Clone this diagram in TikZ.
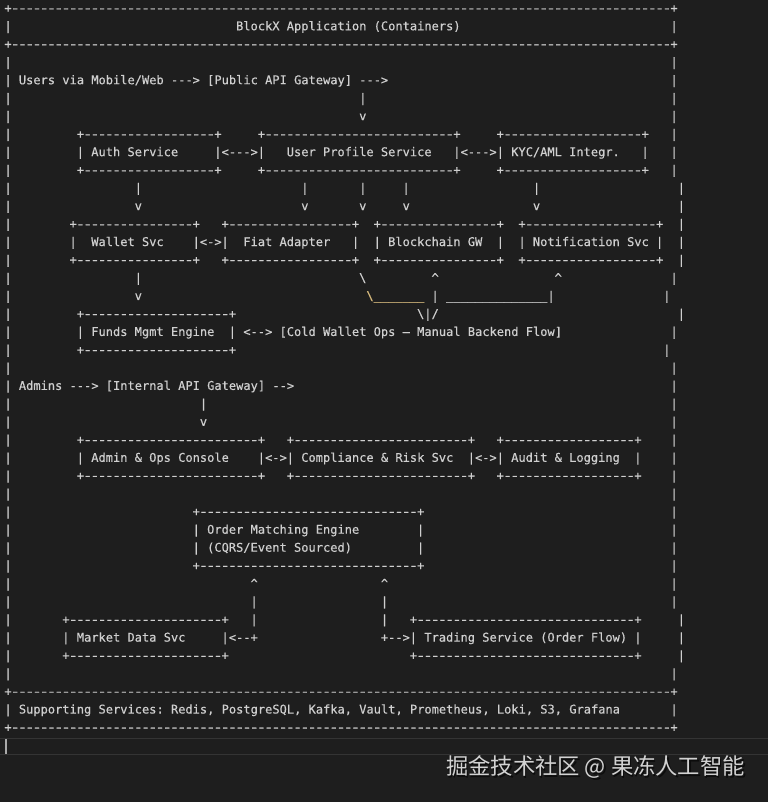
\documentclass[tikz,border=0pt]{standalone}
\usepackage{fontspec}
\setmonofont{DejaVu Sans Mono}[FakeBold=0.35]
\newfontfamily\cjkfont{Noto Sans CJK SC}
\definecolor{bg}{HTML}{1E1E1E}
\definecolor{fg}{HTML}{CFCFCF}
\definecolor{yel}{HTML}{D7BA7D}
\definecolor{wm}{HTML}{D2D2D2}
\definecolor{rulec}{HTML}{343434}
\definecolor{cur}{HTML}{AAAAAA}
\tikzset{asc/.style={anchor=base west,inner sep=0pt,outer sep=0pt,text=fg,font=\ttfamily\fontsize{12.03pt}{18pt}\selectfont}}
\newcommand\seg[4]{\node[asc] (#1) at ({4.4+7.24*(#2)},{12.3+17.98*(#3)}) {#4};}
\newcommand\dsh{\makebox[7.24pt]{\scalebox{1.35}[1]{-}}}
\newcommand\brd[4]{\pgfmathtruncatemacro\nd{#3-#2-1}\node[asc] (#1) at ({4.4+7.24*(#2)},{12.3+17.98*(#4)}) {+\foreach \k in {1,...,\nd}{\dsh}+};}
\newcommand\pp[3]{\seg{#1}{#2}{#3}{|}}
\begin{document}
\begin{tikzpicture}[x=1pt,y=-1pt]
\fill[bg] (0,0) rectangle (768,802);
\useasboundingbox (0,0) rectangle (768,802);
% header
\brd{r0}{0}{92}{0}
\pp{r1a}{0}{1}\seg{r1b}{32}{1}{BlockX Application (Containers)}\pp{r1c}{92}{1}
\brd{r2}{0}{92}{2}
\pp{r3a}{0}{3}\pp{r3b}{92}{3}
\pp{r4a}{0}{4}\seg{r4b}{2}{4}{Users via Mobile/Web ---> [Public API Gateway] --->}\pp{r4c}{92}{4}
\pp{r5a}{0}{5}\pp{r5b}{49}{5}\pp{r5c}{92}{5}
\pp{r6a}{0}{6}\seg{r6b}{49}{6}{v}\pp{r6c}{92}{6}
% auth row
\pp{r7a}{0}{7}\brd{r7b}{10}{29}{7}\brd{r7c}{35}{62}{7}\brd{r7d}{68}{88}{7}\pp{r7e}{92}{7}
\pp{r8a}{0}{8}\seg{r8b}{10}{8}{| Auth Service}\seg{r8c}{29}{8}{|<--->|}\seg{r8d}{39}{8}{User Profile Service}\seg{r8e}{62}{8}{|<--->| KYC/AML Integr.}\pp{r8f}{88}{8}\pp{r8g}{92}{8}
\pp{r9a}{0}{9}\brd{r9b}{10}{29}{9}\brd{r9c}{35}{62}{9}\brd{r9d}{68}{88}{9}\pp{r9e}{92}{9}
\pp{r10a}{0}{10}\pp{r10b}{18}{10}\pp{r10c}{41}{10}\pp{r10d}{49}{10}\pp{r10e}{55}{10}\pp{r10f}{73}{10}\pp{r10g}{93}{10}
\pp{r11a}{0}{11}\seg{r11b}{18}{11}{v}\seg{r11c}{41}{11}{v}\seg{r11d}{49}{11}{v}\seg{r11e}{55}{11}{v}\seg{r11f}{73}{11}{v}\pp{r11g}{93}{11}
% wallet row
\pp{r12a}{0}{12}\brd{r12b}{9}{26}{12}\brd{r12c}{30}{48}{12}\brd{r12d}{51}{68}{12}\brd{r12e}{71}{90}{12}\pp{r12f}{93}{12}
\pp{r13a}{0}{13}\pp{r13b}{9}{13}\seg{r13c}{12}{13}{Wallet Svc}\seg{r13d}{26}{13}{|<->|}\seg{r13e}{33}{13}{Fiat Adapter}\pp{r13f}{48}{13}\seg{r13g}{51}{13}{| Blockchain GW}\pp{r13h}{68}{13}\seg{r13i}{71}{13}{| Notification Svc |}\pp{r13j}{93}{13}
\pp{r14a}{0}{14}\brd{r14b}{9}{26}{14}\brd{r14c}{30}{48}{14}\brd{r14d}{51}{68}{14}\brd{r14e}{71}{90}{14}\pp{r14f}{93}{14}
\pp{r15a}{0}{15}\pp{r15b}{18}{15}\seg{r15c}{49}{15}{\textbackslash}\seg{r15d}{59}{15}{\textasciicircum}\seg{r15e}{76}{15}{\textasciicircum}\pp{r15f}{92}{15}
\pp{r16a}{0}{16}\seg{r16b}{18}{16}{v}
\node[asc,text=yel] (r16c) at ({4.4+7.24*50},{12.3+17.98*16}) {\textbackslash\_\_\_\_\_\_\_};
\seg{r16d}{59}{16}{| \_\_\_\_\_\_\_\_\_\_\_\_\_\_|}\pp{r16e}{91}{16}
% funds row
\pp{r17a}{0}{17}\brd{r17b}{10}{31}{17}\seg{r17c}{57}{17}{\textbackslash|/}\pp{r17d}{93}{17}
\pp{r18a}{0}{18}\seg{r18b}{10}{18}{| Funds Mgmt Engine}\seg{r18c}{31}{18}{| <--> [Cold Wallet Ops – Manual Backend Flow]}\pp{r18d}{92}{18}
\pp{r19a}{0}{19}\brd{r19b}{10}{31}{19}\pp{r19c}{91}{19}
\pp{r20a}{0}{20}\pp{r20b}{92}{20}
% admins
\pp{r21a}{0}{21}\seg{r21b}{2}{21}{Admins ---> [Internal API Gateway] -->}\pp{r21c}{92}{21}
\pp{r22a}{0}{22}\pp{r22b}{27}{22}\pp{r22c}{92}{22}
\pp{r23a}{0}{23}\seg{r23b}{27}{23}{v}\pp{r23c}{92}{23}
\pp{r24a}{0}{24}\brd{r24b}{10}{35}{24}\brd{r24c}{39}{64}{24}\brd{r24d}{68}{87}{24}\pp{r24e}{92}{24}
\pp{r25a}{0}{25}\seg{r25b}{10}{25}{| Admin \& Ops Console}\seg{r25c}{35}{25}{|<->| Compliance \& Risk Svc}\seg{r25d}{64}{25}{|<->| Audit \& Logging}\pp{r25e}{87}{25}\pp{r25f}{92}{25}
\pp{r26a}{0}{26}\brd{r26b}{10}{35}{26}\brd{r26c}{39}{64}{26}\brd{r26d}{68}{87}{26}\pp{r26e}{92}{26}
\pp{r27a}{0}{27}\pp{r27b}{92}{27}
% order matching
\pp{r28a}{0}{28}\brd{r28b}{26}{57}{28}\pp{r28c}{92}{28}
\pp{r29a}{0}{29}\seg{r29b}{26}{29}{| Order Matching Engine}\pp{r29c}{57}{29}\pp{r29d}{92}{29}
\pp{r30a}{0}{30}\seg{r30b}{26}{30}{| (CQRS/Event Sourced)}\pp{r30c}{57}{30}\pp{r30d}{92}{30}
\pp{r31a}{0}{31}\brd{r31b}{26}{57}{31}\pp{r31c}{92}{31}
\pp{r32a}{0}{32}\seg{r32b}{34}{32}{\textasciicircum}\seg{r32c}{52}{32}{\textasciicircum}\pp{r32d}{92}{32}
\pp{r33a}{0}{33}\pp{r33b}{34}{33}\pp{r33c}{52}{33}\pp{r33d}{92}{33}
\pp{r34a}{0}{34}\brd{r34b}{8}{30}{34}\pp{r34c}{34}{34}\pp{r34d}{52}{34}\brd{r34e}{56}{87}{34}\pp{r34f}{93}{34}
\pp{r35a}{0}{35}\seg{r35b}{8}{35}{| Market Data Svc}\seg{r35c}{30}{35}{|<--+}\seg{r35d}{52}{35}{+-->| Trading Service (Order Flow) |}\pp{r35e}{93}{35}
\pp{r36a}{0}{36}\brd{r36b}{8}{30}{36}\brd{r36c}{56}{87}{36}\pp{r36d}{93}{36}
\pp{r37a}{0}{37}\pp{r37b}{92}{37}
% supporting
\brd{r38}{0}{92}{38}
\pp{r39a}{0}{39}\seg{r39b}{2}{39}{Supporting Services: Redis, PostgreSQL, Kafka, Vault, Prometheus, Loki, S3, Grafana}\pp{r39c}{92}{39}
\brd{r40}{0}{92}{40}
% terminal input line
\draw[rulec,line width=1pt] (0,738) -- (768,738);
\draw[rulec,line width=1pt] (0,754) -- (768,754);
\fill[cur] (5,738.5) rectangle (7,753.5);
% watermark
\node[anchor=east,inner sep=0pt,text=black,opacity=0.6,font=\cjkfont\fontsize{22.3pt}{22pt}\selectfont] (wmsh) at (746.5,768.5) {掘金技术社区 @ 果冻人工智能};
\node[anchor=east,inner sep=0pt,text=wm,font=\cjkfont\fontsize{22.3pt}{22pt}\selectfont] (wmk) at (745,767) {掘金技术社区 @ 果冻人工智能};
\end{tikzpicture}
\end{document}
